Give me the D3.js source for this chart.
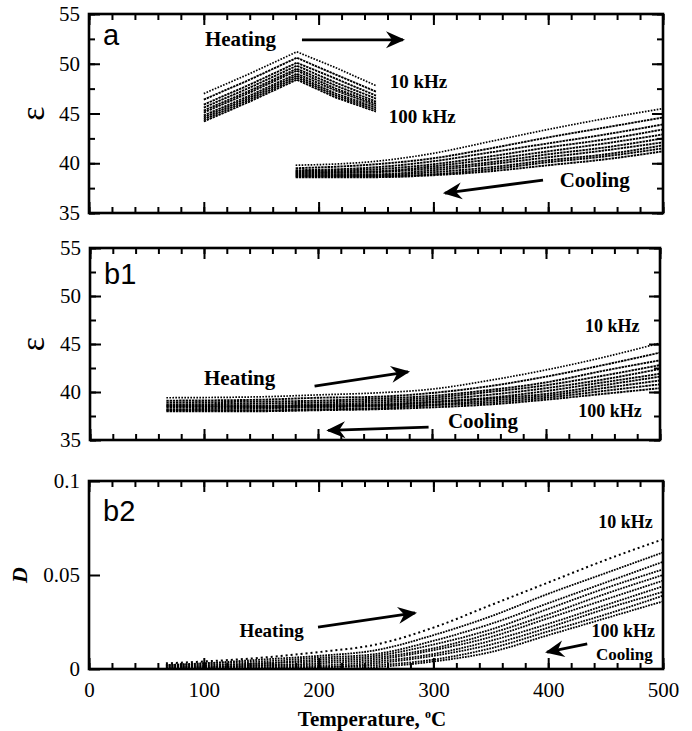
<!DOCTYPE html>
<html>
<head>
<meta charset="utf-8">
<script src="https://cdn.jsdelivr.net/npm/d3@7"></script>
<style>
body { margin: 0; background: #fff; }
svg { display: block; }
</style>
</head>
<body>
<div id="chart"></div>
<script>
// frequencies, 10 kHz on top down to 100 kHz
var freqs = ["10 kHz", "20 kHz", "30 kHz", "40 kHz", "50 kHz", "60 kHz", "70 kHz", "80 kHz", "90 kHz", "100 kHz"];
var xTicks = [0, 100, 200, 300, 400, 500];
var epsTicks = [35, 40, 45, 50, 55];
var lossTicks = [0, 0.05, 0.1];

// panel a, heating run
var tempHeatA = [100, 140, 181, 215, 250];
var epsHeatA = [
  [47.0, 49.0, 51.2, 49.6, 47.8],
  [46.4, 48.4, 50.6, 48.9, 47.2],
  [45.9, 47.9, 50.1, 48.5, 46.8],
  [45.6, 47.6, 49.8, 48.1, 46.5],
  [45.3, 47.3, 49.5, 47.8, 46.2],
  [45.1, 47.1, 49.3, 47.5, 46.0],
  [44.8, 46.8, 49.0, 47.3, 45.8],
  [44.6, 46.6, 48.8, 47.0, 45.6],
  [44.4, 46.4, 48.6, 46.8, 45.4],
  [44.2, 46.2, 48.4, 46.6, 45.2]
];
// panel a, cooling run
var tempCoolA = [180, 250, 300, 350, 400, 450, 500];
var epsCoolA = [
  [39.8, 40.2, 41.0, 42.2, 43.4, 44.5, 45.5],
  [39.5, 39.9, 40.5, 41.5, 42.6, 43.6, 44.6],
  [39.3, 39.6, 40.2, 41.1, 42.0, 42.9, 43.9],
  [39.2, 39.4, 39.9, 40.7, 41.6, 42.4, 43.4],
  [39.1, 39.2, 39.7, 40.4, 41.2, 42.0, 42.9],
  [39.0, 39.1, 39.5, 40.1, 40.9, 41.6, 42.5],
  [38.9, 38.9, 39.3, 39.9, 40.6, 41.3, 42.1],
  [38.8, 38.8, 39.1, 39.6, 40.3, 40.9, 41.8],
  [38.7, 38.7, 38.9, 39.4, 40.1, 40.7, 41.5],
  [38.6, 38.6, 38.8, 39.2, 39.8, 40.4, 41.2]
];
// panel b1
var tempB = [67, 150, 200, 250, 300, 350, 400, 450, 500];
var epsB1 = [
  [39.4, 39.5, 39.7, 39.9, 40.3, 41.2, 42.3, 43.6, 45.1],
  [39.1, 39.2, 39.4, 39.5, 39.9, 40.6, 41.6, 42.8, 44.1],
  [38.9, 39.0, 39.1, 39.3, 39.6, 40.2, 41.0, 42.2, 43.3],
  [38.7, 38.8, 38.9, 39.1, 39.4, 40.0, 40.7, 41.7, 42.8],
  [38.6, 38.6, 38.7, 38.9, 39.2, 39.7, 40.4, 41.3, 42.4],
  [38.5, 38.5, 38.6, 38.7, 39.0, 39.4, 40.1, 41.0, 41.9],
  [38.4, 38.4, 38.5, 38.6, 38.9, 39.3, 39.8, 40.7, 41.6],
  [38.2, 38.3, 38.4, 38.5, 38.7, 39.1, 39.6, 40.4, 41.2],
  [38.1, 38.1, 38.2, 38.3, 38.6, 38.9, 39.4, 40.1, 40.8],
  [38.0, 38.0, 38.1, 38.2, 38.4, 38.7, 39.2, 39.8, 40.4]
];
// panel b2, loss D
var tempB2 = [67, 100, 150, 200, 250, 300, 350, 400, 450, 500];
var lossB2 = [
  [0.003, 0.004, 0.006, 0.009, 0.013, 0.022, 0.034, 0.046, 0.058, 0.069],
  [0.002, 0.003, 0.005, 0.007, 0.010, 0.018, 0.028, 0.040, 0.051, 0.062],
  [0.002, 0.003, 0.004, 0.006, 0.008, 0.015, 0.024, 0.035, 0.046, 0.057],
  [0.002, 0.002, 0.003, 0.005, 0.007, 0.013, 0.021, 0.032, 0.043, 0.053],
  [0.001, 0.002, 0.003, 0.004, 0.006, 0.011, 0.019, 0.029, 0.040, 0.050],
  [0.001, 0.001, 0.002, 0.003, 0.005, 0.010, 0.017, 0.027, 0.037, 0.047],
  [0.001, 0.001, 0.002, 0.002, 0.004, 0.008, 0.015, 0.024, 0.034, 0.044],
  [0.000, 0.001, 0.001, 0.001, 0.003, 0.007, 0.013, 0.022, 0.032, 0.041],
  [0.000, 0.000, 0.001, 0.001, 0.002, 0.005, 0.011, 0.020, 0.029, 0.039],
  [0.000, 0.000, 0.000, 0.000, 0.001, 0.004, 0.009, 0.018, 0.027, 0.036]
];

var width = 692, height = 731;
var serif = "'Times New Roman', 'Liberation Serif', serif";
var sans = "Arial, 'Liberation Sans', sans-serif";

var svg = d3.select("#chart").append("svg")
  .attr("width", width)
  .attr("height", height);

var defs = svg.append("defs");
defs.append("marker")
  .attr("id", "head")
  .attr("markerUnits", "userSpaceOnUse")
  .attr("viewBox", "-20 -10 24 20")
  .attr("markerWidth", 24)
  .attr("markerHeight", 20)
  .attr("refX", 0)
  .attr("refY", 0)
  .attr("orient", "auto")
  .append("path")
  .attr("d", "M2,0 L-17,-8.5 L-11,0 L-17,8.5 Z")
  .attr("fill", "#000");

function seriesPoints(temps, row) {
  return temps.map(function (t, i) { return [t, row[i]]; });
}

function drawPanel(p) {
  var g = svg.append("g");
  var x = d3.scaleLinear().domain([0, 500]).range([p.left, p.right]);
  var y = d3.scaleLinear().domain(p.yDomain).range([p.bottom, p.top]);

  var clipId = "clip" + p.name;
  defs.append("clipPath").attr("id", clipId)
    .append("rect")
    .attr("x", p.left).attr("y", p.top)
    .attr("width", p.right - p.left).attr("height", p.bottom - p.top);

  var dataG = g.append("g").attr("clip-path", "url(#" + clipId + ")");
  p.sets.forEach(function (s) {
    var line = d3.line()
      .x(function (d) { return x(d[0]); })
      .y(function (d) { return y(d[1]); })
      .curve(s.curve);
    s.rows.forEach(function (row, k) {
      dataG.append("path")
        .datum(seriesPoints(s.temps, row))
        .attr("d", line)
        .attr("fill", "none")
        .attr("stroke", "#000")
        .attr("stroke-width", k == 0 ? s.topWidth : s.width)
        .attr("stroke-dasharray", k == 0 ? s.topDash : s.dash);
    });
  });

  // ticks, all pointing inward
  var minorX = d3.range(0, 501, 20);
  function tickStyle(sel) {
    sel.select(".domain").remove();
    sel.selectAll(".tick line").attr("stroke", "#000").attr("stroke-width", 2);
    sel.selectAll(".tick text").attr("fill", "#000");
  }
  g.append("g").attr("transform", "translate(0," + p.bottom + ")")
    .call(d3.axisBottom(x).tickValues(minorX).tickSize(-6).tickFormat(""))
    .call(tickStyle);
  var bottomAxis = d3.axisBottom(x).tickValues(xTicks).tickSize(-11).tickPadding(13);
  if (!p.xLabels) bottomAxis.tickFormat("");
  g.append("g").attr("transform", "translate(0," + p.bottom + ")")
    .call(bottomAxis)
    .call(tickStyle)
    .call(function (sel) {
      sel.selectAll("text").style("font-family", serif).style("font-size", "21px");
    });
  g.append("g").attr("transform", "translate(0," + p.top + ")")
    .call(d3.axisTop(x).tickValues(minorX).tickSize(-6).tickFormat(""))
    .call(tickStyle);
  g.append("g").attr("transform", "translate(0," + p.top + ")")
    .call(d3.axisTop(x).tickValues(xTicks).tickSize(-11).tickFormat(""))
    .call(tickStyle);

  if (p.yMinor) {
    var minorY = d3.range(p.yDomain[0], p.yDomain[1] + 0.01, p.yMinor);
    g.append("g").attr("transform", "translate(" + p.left + ",0)")
      .call(d3.axisLeft(y).tickValues(minorY).tickSize(-6).tickFormat(""))
      .call(tickStyle);
    g.append("g").attr("transform", "translate(" + p.right + ",0)")
      .call(d3.axisRight(y).tickValues(minorY).tickSize(-6).tickFormat(""))
      .call(tickStyle);
    g.append("g").attr("transform", "translate(" + p.right + ",0)")
      .call(d3.axisRight(y).tickValues(p.yTicks).tickSize(-11).tickFormat(""))
      .call(tickStyle);
  }
  g.append("g").attr("transform", "translate(" + p.left + ",0)")
    .call(d3.axisLeft(y).tickValues(p.yTicks).tickSize(-11).tickPadding(9)
      .tickFormat(function (d) { return String(d); }))
    .call(tickStyle)
    .call(function (sel) {
      sel.selectAll("text").style("font-family", serif).style("font-size", "21px");
    });

  // frame
  g.append("rect")
    .attr("x", p.left).attr("y", p.top)
    .attr("width", p.right - p.left).attr("height", p.bottom - p.top)
    .attr("fill", "none")
    .attr("stroke", "#000")
    .attr("stroke-width", 2.6);

  // panel letter
  g.append("text")
    .attr("x", p.left + 14)
    .attr("y", p.letterY)
    .style("font-family", sans)
    .style("font-size", "29px")
    .text(p.name);

  // y title
  g.append("text")
    .attr("transform", "translate(" + p.yTitleX + "," + ((p.top + p.bottom) / 2) + ") rotate(-90)")
    .attr("text-anchor", "middle")
    .style("font-family", serif)
    .style("font-size", p.yTitleSize)
    .style("font-weight", p.yTitleWeight)
    .style("font-style", p.yTitleStyle)
    .text(p.yTitle);

  // notes and arrows, placed in data units
  p.notes.forEach(function (n) {
    g.append("text")
      .attr("x", x(n.t))
      .attr("y", y(n.v))
      .attr("text-anchor", n.anchor || "start")
      .style("font-family", serif)
      .style("font-weight", "bold")
      .style("font-size", n.size + "px")
      .text(n.text);
  });
  p.arrows.forEach(function (a) {
    g.append("line")
      .attr("x1", x(a[0])).attr("y1", y(a[1]))
      .attr("x2", x(a[2])).attr("y2", y(a[3]))
      .attr("stroke", "#000")
      .attr("stroke-width", 2.8)
      .attr("marker-end", "url(#head)");
  });
}

function epsStyle(temps, rows, curve) {
  return { temps: temps, rows: rows, curve: curve, width: 1.9, dash: "2.4 0.8", topWidth: 1.7, topDash: "1.6 1.4" };
}

drawPanel({
  name: "a", left: 89, right: 663, top: 14, bottom: 213,
  yDomain: [35, 55], yTicks: epsTicks, yMinor: 2.5, xLabels: false,
  letterY: 45, yTitle: "ε", yTitleX: 44, yTitleSize: "34px", yTitleWeight: "normal", yTitleStyle: "normal",
  sets: [
    epsStyle(tempHeatA, epsHeatA, d3.curveLinear),
    epsStyle(tempCoolA, epsCoolA, d3.curveMonotoneX)
  ],
  notes: [
    { text: "Heating", t: 101, v: 51.8, size: 21 },
    { text: "10 kHz", t: 262, v: 47.6, size: 19 },
    { text: "100 kHz", t: 261, v: 44.0, size: 19 },
    { text: "Cooling", t: 410, v: 37.6, size: 21 }
  ],
  arrows: [
    [185.5, 52.4, 273.5, 52.4],
    [395.5, 38.3, 310, 37.0]
  ]
});

drawPanel({
  name: "b1", left: 90, right: 660, top: 248, bottom: 440,
  yDomain: [35, 55], yTicks: epsTicks, yMinor: 2.5, xLabels: false,
  letterY: 284, yTitle: "ε", yTitleX: 44, yTitleSize: "34px", yTitleWeight: "normal", yTitleStyle: "normal",
  sets: [
    epsStyle(tempB, epsB1, d3.curveMonotoneX)
  ],
  notes: [
    { text: "Heating", t: 100, v: 40.7, size: 21 },
    { text: "Cooling", t: 314, v: 36.3, size: 21 },
    { text: "10 kHz", t: 482, v: 46.25, size: 18, anchor: "end" },
    { text: "100 kHz", t: 484, v: 37.4, size: 18, anchor: "end" }
  ],
  arrows: [
    [197, 40.6, 279, 42.1],
    [297, 36.35, 209, 36.0]
  ]
});

drawPanel({
  name: "b2", left: 89, right: 663, top: 481, bottom: 669,
  yDomain: [0, 0.1], yTicks: lossTicks, yMinor: null, xLabels: true,
  letterY: 521, yTitle: "D", yTitleX: 27, yTitleSize: "22px", yTitleWeight: "bold", yTitleStyle: "italic",
  sets: [
    { temps: tempB2, rows: lossB2, curve: d3.curveMonotoneX, width: 1.8, dash: "1.8 1", topWidth: 2, topDash: "2 3" }
  ],
  notes: [
    { text: "Heating", t: 131, v: 0.0172, size: 19 },
    { text: "10 kHz", t: 491, v: 0.075, size: 18, anchor: "end" },
    { text: "100 kHz", t: 493, v: 0.0172, size: 18, anchor: "end" },
    { text: "Cooling", t: 491, v: 0.0048, size: 17, anchor: "end" }
  ],
  arrows: [
    [199.5, 0.0223, 284, 0.0298],
    [434, 0.0133, 399, 0.009]
  ]
});

// x title
var xTitle = svg.append("text")
  .attr("x", 372)
  .attr("y", 726)
  .attr("text-anchor", "middle")
  .style("font-family", serif)
  .style("font-weight", "bold")
  .style("font-size", "21px");
xTitle.append("tspan").text("Temperature, ");
xTitle.append("tspan").attr("dy", -8).style("font-size", "12px").text("o");
xTitle.append("tspan").attr("dy", 8).text("C");
</script>
</body>
</html>
